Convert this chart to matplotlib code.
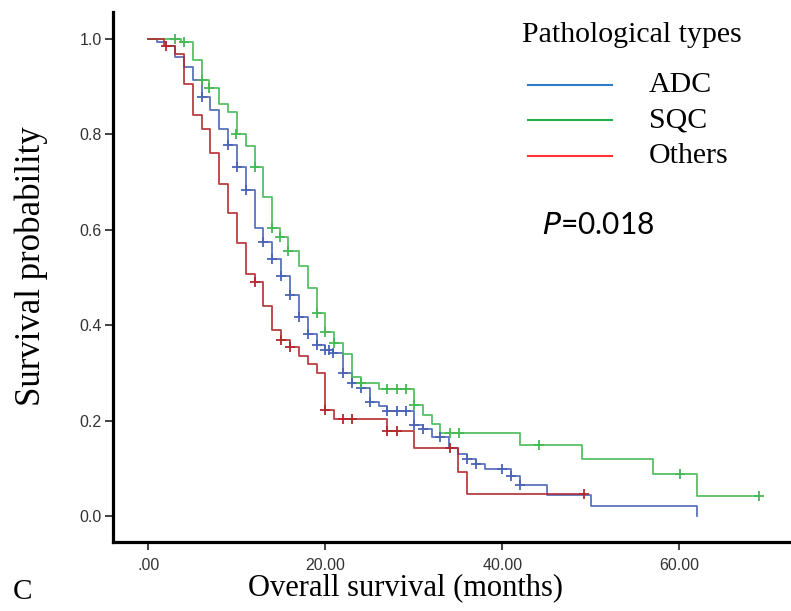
import matplotlib.pyplot as plt
from matplotlib.lines import Line2D

plt.rcParams["font.family"] = ["Liberation Serif", "DejaVu Serif"]

groups = ["ADC", "SQC", "Others"]

# Kaplan-Meier steps (months, survival)
adc_t = [0, 1, 2, 3, 4, 5, 6, 7, 8, 9, 10, 11, 12, 13, 14, 15, 16, 17, 18, 19,
         19.9, 20.9, 22, 23, 24, 25, 26, 27, 30, 31, 32, 34, 35, 36, 37, 38, 41, 42, 45, 50, 62]
adc_s = [1.0, 0.993, 0.985, 0.963, 0.942, 0.914, 0.878, 0.851, 0.811, 0.778,
         0.732, 0.683, 0.603, 0.575, 0.539, 0.503, 0.463, 0.418, 0.382, 0.358,
         0.349, 0.341, 0.300, 0.278, 0.268, 0.238, 0.231, 0.220, 0.191, 0.182,
         0.166, 0.142, 0.131, 0.120, 0.110, 0.099, 0.083, 0.066, 0.045, 0.021, 0.0]
adc_ct = [6, 9, 10, 11, 13, 14, 15, 16, 17, 18, 19, 19.9, 20.4, 20.9, 22, 23, 24, 25,
          27, 28.1, 29.1, 30, 31, 33, 36, 37, 40, 41, 42]
adc_cs = [0.878, 0.778, 0.732, 0.683, 0.575, 0.539, 0.503, 0.463, 0.418, 0.382,
          0.358, 0.349, 0.349, 0.341, 0.300, 0.278, 0.268, 0.238, 0.220, 0.220,
          0.220, 0.191, 0.182, 0.166, 0.120, 0.110, 0.099, 0.083, 0.066]

sqc_t = [0, 3.7, 5, 6, 6.9, 8, 9, 10, 11, 12, 13, 14, 14.9, 15.8, 17, 18, 19, 20, 21, 22,
         23, 24, 26, 30, 31, 32, 33, 42, 49, 57, 62, 69]
sqc_s = [1.0, 0.993, 0.957, 0.914, 0.898, 0.863, 0.846, 0.801, 0.776, 0.732,
         0.668, 0.603, 0.584, 0.556, 0.524, 0.477, 0.426, 0.386, 0.362, 0.340,
         0.292, 0.279, 0.266, 0.233, 0.212, 0.193, 0.175, 0.149, 0.119, 0.088, 0.043, 0.043]
sqc_ct = [3, 4, 6, 6.9, 9.9, 12, 14, 14.9, 15.8, 19, 20, 21, 24, 27, 28.1, 29.1, 30,
          34.1, 35.1, 44.1, 60.1, 69]
sqc_cs = [1.0, 0.993, 0.914, 0.898, 0.801, 0.732, 0.603, 0.584, 0.556, 0.426, 0.386,
          0.362, 0.279, 0.266, 0.266, 0.266, 0.233, 0.175, 0.175, 0.149, 0.088, 0.043]

oth_t = [0, 1.8, 3, 4, 5, 6, 7, 8, 9, 10, 11, 12, 13, 14, 15, 16, 17, 18, 19, 20, 21,
         27, 30, 35, 36, 49.2]
oth_s = [1.0, 0.985, 0.968, 0.906, 0.841, 0.811, 0.762, 0.697, 0.636, 0.572,
         0.507, 0.491, 0.440, 0.390, 0.370, 0.355, 0.335, 0.318, 0.299, 0.222,
         0.203, 0.178, 0.142, 0.093, 0.046, 0.046]
oth_ct = [2, 12, 15, 16, 20, 22, 23, 27, 28.1, 34.1, 49.2]
oth_cs = [0.985, 0.491, 0.370, 0.355, 0.222, 0.203, 0.203, 0.178, 0.178, 0.142, 0.046]

x_ticks = [0, 20, 40, 60]
x_ticklabels = [".00", "20.00", "40.00", "60.00"]
y_ticks = [0.0, 0.2, 0.4, 0.6, 0.8, 1.0]

curve_colors = ["#4a64b5", "#45b953", "#b3282d"]
legend_colors = ["#2e7cc4", "#23b14d", "#ff3333"]

W, H = 791, 611
fig = plt.figure(figsize=(W / 100, H / 100), dpi=100)
ax = fig.add_axes([113 / W, 1 - 542.3 / H, 1 - 113 / W, (542.3 - 12) / H])

series = [(adc_t, adc_s, adc_ct, adc_cs), (sqc_t, sqc_s, sqc_ct, sqc_cs),
          (oth_t, oth_s, oth_ct, oth_cs)]
for (t, s, ct, cs), col in zip(series, curve_colors):
    ax.step(t, s, where="post", color=col, linewidth=1.3, alpha=0.9, zorder=3)
    ax.plot(ct, cs, linestyle="none", marker="+", markersize=7, markeredgewidth=1.3,
            color=col, zorder=4)

ax.set_xlim(-4.0, 72.6)
ax.set_ylim(-0.0551, 1.0566)
for side in ["top", "right"]:
    ax.spines[side].set_visible(False)
for side in ["left", "bottom"]:
    ax.spines[side].set_linewidth(2.3)
ax.set_xticks(x_ticks)
ax.set_xticklabels(x_ticklabels)
ax.set_yticks(y_ticks)
ax.set_yticklabels([f"{v:.1f}" for v in y_ticks])
ax.tick_params(axis="both", direction="out", length=6, width=1.2, colors="#222222",
               labelsize=11.5)
ax.tick_params(axis="x", pad=5)
ax.tick_params(axis="y", pad=2)
for lab in ax.get_xticklabels() + ax.get_yticklabels():
    lab.set_fontfamily("Liberation Sans")
    lab.set_color("#333333")

fig.text(31 / W, 1 - 266 / H, "Survival probability", rotation=90, fontsize=25,
         ha="center", va="center")
fig.text(405 / W, 1 - 588 / H, "Overall survival (months)", fontsize=22,
         ha="center", va="center")
fig.text(13 / W, 1 - 592 / H, "C", fontsize=21, ha="left", va="center")

# legend drawn by hand
fig.text(521.7 / W, 1 - 35 / H, "Pathological types", fontsize=21.5, ha="left",
         va="center")
leg_y = [85, 120, 156]
for name, col, yy in zip(groups, legend_colors, leg_y):
    fig.add_artist(Line2D([528 / W, 612 / W], [1 - yy / H, 1 - yy / H], color=col,
                          linewidth=1.5, transform=fig.transFigure))
    fig.text(649 / W, 1 - yy / H, name, fontsize=21.5, ha="left", va="center")

fig.text(541.7 / W, 1 - 225.5 / H, r"$\it{P}$=0.018", fontsize=21.5, ha="left",
         va="center", family=["Lato", "DejaVu Sans"])

plt.savefig("out.png", dpi=100)
